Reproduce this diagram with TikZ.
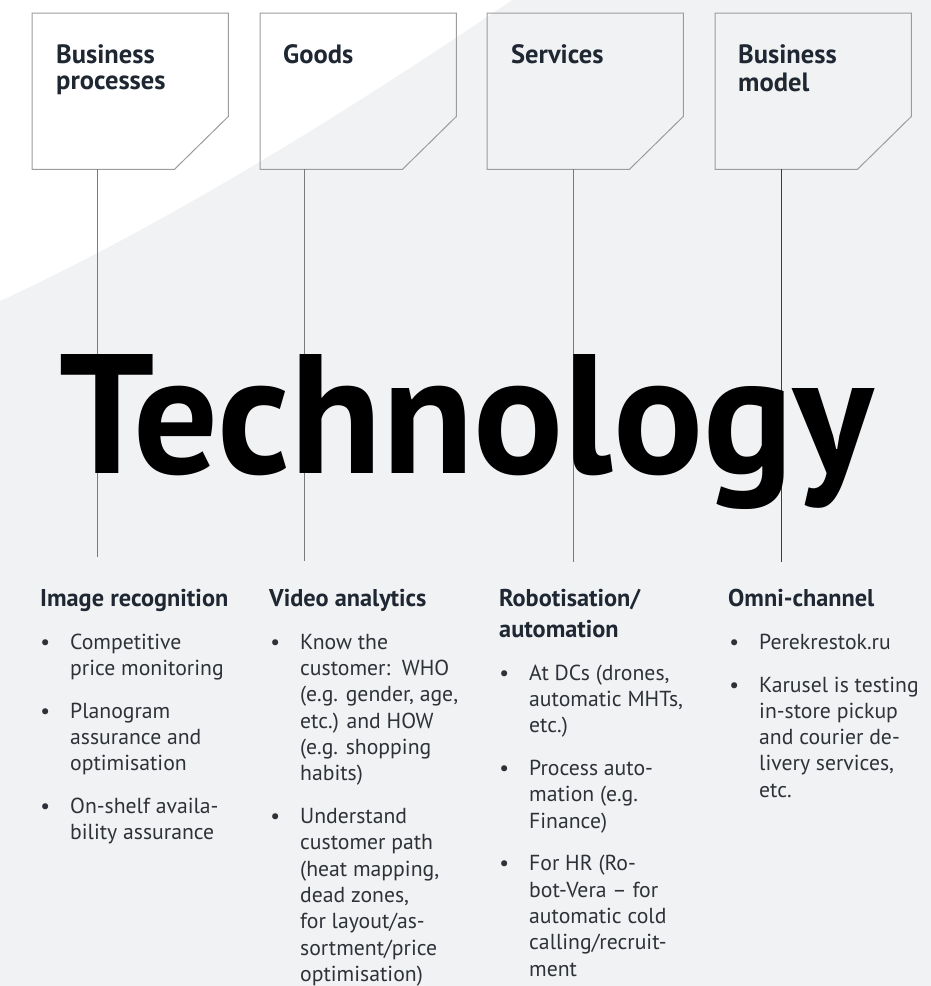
\documentclass[tikz,border=0pt]{standalone}
\usepackage{fontspec}
\setmainfont{PT Sans}
\usepackage{graphicx}
\usetikzlibrary{positioning,calc}
\definecolor{paper}{HTML}{F1F2F4}
\definecolor{ink}{HTML}{1E2732}
\definecolor{textgray}{HTML}{2E3238}
\definecolor{rule}{HTML}{9C9C9C}
\definecolor{stem}{HTML}{7A7A7A}
\definecolor{stemdark}{HTML}{3E3E3E}
\newcommand{\bul}{\llap{\textbullet\hspace{20pt}}}

\begin{document}
\begin{tikzpicture}[x=1pt,y=-1pt,node distance=16pt]
  \tikzstyle{card}=[inner sep=0pt,minimum width=196pt,minimum height=156pt,anchor=north west]
  \tikzstyle{cardtitle}=[inner sep=0pt,anchor=north west,align=left,text=ink,font=\fontsize{26.5}{26.3}\selectfont\bfseries]
  \tikzstyle{head}=[inner sep=0pt,anchor=north west,align=left,text=ink,font=\fontsize{24.3}{31}\selectfont\bfseries]
  \tikzstyle{item}=[inner sep=0pt,align=left,text=textgray,font=\fontsize{21.7}{26.3}\selectfont]
  \tikzstyle{stemline}=[stem,line width=1pt]
  \useasboundingbox (0,0) rectangle (931,986);
  \fill[paper] (0,0) rectangle (931,986);
  \fill[white] (0,0) -- (512,0) .. controls (350,110) and (170,222) .. (0,301) -- cycle;

  % cards
  \node[card] (procs) at (32,13) {};
  \node[card] (goods) at (260,13) {};
  \node[card] (servs) at (487,13) {};
  \node[card] (model) at (715,13) {};
  \foreach \c in {procs,goods,servs,model}
    \draw[rule,line width=1pt] (\c.north west) -- (\c.north east) -- ($(\c.south east)+(0,-53)$)
      -- ($(\c.south east)+(-54,0)$) -- (\c.south west) -- cycle;
  \node[cardtitle] (procsT) at ($(procs.north west)+(24,31.6)$) {\strut Business\\processes\strut};
  \node[cardtitle] (goodsT) at ($(goods.north west)+(23,31.6)$) {\strut Goods\strut};
  \node[cardtitle] (servsT) at ($(servs.north west)+(24,31.6)$) {\strut Services\strut};
  \node[cardtitle] (modelT) at ($(model.north west)+(23,31.6)$) {\strut Business\\model\strut};

  % stems
  \coordinate (procs-end) at (97,557);
  \coordinate (goods-end) at (304,561);
  \coordinate (servs-end) at (573,562);
  \coordinate (model-end) at (781,562);
  \foreach \c in {procs,goods,servs}
    \draw[stemline] (\c-end |- \c.south) -- (\c-end);
  \draw[stemline,stemdark] (model-end |- model.south) -- (model-end);

  \node[anchor=base west,inner sep=0pt,font=\fontsize{170}{170}\selectfont\bfseries] (tech) at (59,473)
    {\scalebox{0.988}[1]{Technology}};

  % image recognition
  \node[head] (imgH) at (40,584.3) {\strut Image recognition\strut};
  \node[item,below right=15pt and 30pt of imgH.south west] (imgA) {\strut\bul Competitive\\price monitoring\strut};
  \node[item,below right=16pt and 0pt of imgA.south west] (imgB) {\strut\bul Planogram\\assurance and\\optimisation\strut};
  \node[item,below right=16pt and 0pt of imgB.south west] (imgC) {\strut\bul On-shelf availa-\\bility assurance\strut};

  % video analytics
  \node[head] (vidH) at (269,584.3) {\strut Video analytics\strut};
  \node[item,below right=15pt and 31pt of vidH.south west] (vidA) {\strut\bul Know the\\customer:\ \ WHO\\(e.g. gender, age,\\etc.) and HOW\\(e.g. shopping\\habits)\strut};
  \node[item,below right=16pt and 0pt of vidA.south west] (vidB) {\strut\bul Understand\\customer path\\(heat mapping,\\dead zones,\\for layout/as-\\sortment/price\\optimisation)\strut};

  % robotisation
  \node[head] (robH) at (499,584.3) {\strut Robotisation/\\automation\strut};
  \node[item,below right=15pt and 30pt of robH.south west] (robA) {\strut\bul At DCs (drones,\\automatic MHTs,\\etc.)\strut};
  \node[item,below right=16pt and 0pt of robA.south west] (robB) {\strut\bul Process auto-\\mation (e.g.\\Finance)\strut};
  \node[item,below right=16pt and 0pt of robB.south west] (robC) {\strut\bul For HR (Ro-\\bot-Vera -- for\\automatic cold\\calling/recruit-\\ment\strut};

  % omni-channel
  \node[head] (omnH) at (728,584.3) {\strut Omni-channel\strut};
  \node[item,below right=15pt and 31pt of omnH.south west] (omnA) {\strut\bul Perekrestok.ru\strut};
  \node[item,below right=16pt and 0pt of omnA.south west] (omnB) {\strut\bul Karusel is testing\\in-store pickup\\and courier de-\\livery services,\\etc.\strut};
\end{tikzpicture}
\end{document}
